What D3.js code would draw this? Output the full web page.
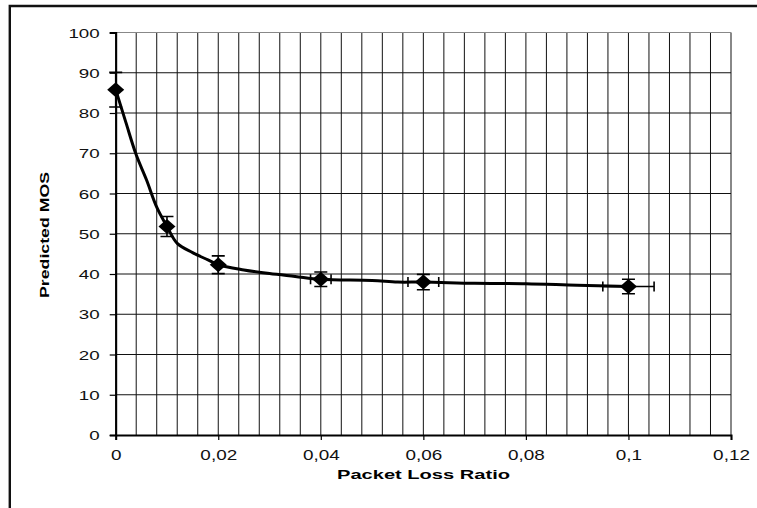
<!DOCTYPE html>
<html>
<head>
<meta charset="utf-8">
<script src="https://cdn.jsdelivr.net/npm/d3@7"></script>
<style>
  body { margin: 0; background: #fff; }
  svg { display: block; font-family: "Liberation Sans", Arial, sans-serif; }
</style>
</head>
<body>
<div id="chart"></div>
<script>
// Measured points (markers with error bars)
const lossRatio = [0, 0.01, 0.02, 0.04, 0.06, 0.1];
const predictedMos = [85.8, 51.8, 42.3, 38.7, 38.0, 36.9];
const mosError = [4.3, 2.5, 2.2, 1.8, 1.9, 1.8];
const lossError = [0, 0, 0, 0.002, 0.003, 0.005];

// Smoothed trend line
const curveLoss = [0, 0.002, 0.004, 0.006, 0.008, 0.01, 0.012, 0.015, 0.018, 0.02,
  0.025, 0.03, 0.035, 0.04, 0.05, 0.055, 0.06, 0.07, 0.08, 0.09, 0.1];
const curveMos = [85.8, 77.6, 69.6, 63.4, 56.6, 51.8, 47.6, 45.3, 43.5, 42.3,
  41.0, 40.1, 39.4, 38.7, 38.4, 38.0, 38.0, 37.7, 37.6, 37.2, 36.9];

const xTicks = [0, 0.02, 0.04, 0.06, 0.08, 0.1, 0.12];
const xTickLabels = ['0', '0,02', '0,04', '0,06', '0,08', '0,1', '0,12'];
const yTicks = [0, 10, 20, 30, 40, 50, 60, 70, 80, 90, 100];
const xGrid = d3.range(0, 0.1201, 0.004);

const width = 757;
const height = 508;

const svg = d3.select('#chart').append('svg').attr('width', width).attr('height', height);

// outer frame (only top and left edges show)
svg.append('path')
  .attr('d', 'M 9.8 508 L 9.8 6 L 757 6')
  .attr('fill', 'none')
  .attr('stroke', '#111')
  .attr('stroke-width', 2.4);

const x = d3.scaleLinear().domain([0, 0.12]).range([115.7, 731]);
const y = d3.scaleLinear().domain([0, 100]).range([435, 32.5]);

// grid
const grid = svg.append('g').attr('class', 'grid');
grid.selectAll('.vline')
  .data(xGrid)
  .enter()
  .append('line')
  .attr('class', 'vline')
  .attr('x1', (d) => x(d))
  .attr('x2', (d) => x(d))
  .attr('y1', y(100))
  .attr('y2', y(0))
  .attr('stroke', (d, i) => (i === xGrid.length - 1 ? '#888' : '#111'))
  .attr('stroke-width', (d, i) => (i === xGrid.length - 1 ? 2 : 1));

grid.selectAll('.hline')
  .data(yTicks.slice(1))
  .enter()
  .append('line')
  .attr('class', 'hline')
  .attr('x1', x(0))
  .attr('x2', x(0.12))
  .attr('y1', (d) => y(d))
  .attr('y2', (d) => y(d))
  .attr('stroke', (d) => (d === 100 ? '#888' : '#111'))
  .attr('stroke-width', 1);

// axes
const xAxis = svg.append('g')
  .attr('transform', `translate(0, ${y(0)})`)
  .call(d3.axisBottom(x).tickValues(xTicks).tickSize(5).tickFormat((d, i) => xTickLabels[i]));

const yAxis = svg.append('g')
  .attr('transform', `translate(${x(0)}, 0)`)
  .call(d3.axisLeft(y).tickValues(yTicks).tickSize(6));

xAxis.select('.domain').attr('stroke', '#000').attr('stroke-width', 2);
yAxis.select('.domain').attr('stroke', '#000').attr('stroke-width', 2);
xAxis.selectAll('.tick line').attr('stroke', '#000').attr('stroke-width', 1.2);
yAxis.selectAll('.tick line').attr('stroke', '#000').attr('stroke-width', 1.2);

// labels in the source are stretched sideways, so scale them
xAxis.selectAll('.tick text')
  .attr('y', 0)
  .attr('dy', 0)
  .attr('font-size', 14)
  .attr('fill', '#111')
  .attr('font-family', '"Liberation Sans", Arial, sans-serif')
  .attr('transform', 'translate(0, 25) scale(1.35, 1)');

yAxis.selectAll('.tick text')
  .attr('x', 0)
  .attr('dy', '0.36em')
  .attr('font-size', 12.5)
  .attr('fill', '#111')
  .attr('font-family', '"Liberation Sans", Arial, sans-serif')
  .attr('transform', 'translate(-16, 0) scale(1.5, 1)');

// axis titles
svg.append('text')
  .attr('x', 337)
  .attr('y', 479)
  .attr('font-size', 13)
  .attr('font-weight', 'bold')
  .attr('textLength', 173)
  .attr('lengthAdjust', 'spacingAndGlyphs')
  .text('Packet Loss Ratio');

svg.append('text')
  .attr('transform', 'translate(49, 298) rotate(-90)')
  .attr('x', 0)
  .attr('y', 0)
  .attr('font-size', 13)
  .attr('font-weight', 'bold')
  .attr('textLength', 126)
  .attr('lengthAdjust', 'spacingAndGlyphs')
  .text('Predicted MOS');

// trend line
const line = d3.line()
  .x((d) => x(d[0]))
  .y((d) => y(d[1]))
  .curve(d3.curveCatmullRom.alpha(0.5));

svg.append('path')
  .datum(d3.zip(curveLoss, curveMos))
  .attr('d', line)
  .attr('fill', 'none')
  .attr('stroke', '#000')
  .attr('stroke-width', 3)
  .attr('stroke-linejoin', 'round');

// error bars
const points = lossRatio.map((d, i) => ({
  loss: d,
  mos: predictedMos[i],
  mosErr: mosError[i],
  lossErr: lossError[i],
}));

const errG = svg.append('g').attr('stroke', '#000').attr('stroke-width', 1.6).attr('fill', 'none');
points.forEach((p) => {
  const cx = x(p.loss);
  const cy = y(p.mos);
  const top = y(p.mos + p.mosErr);
  const bot = y(p.mos - p.mosErr);
  errG.append('path').attr('d', `M ${cx} ${top} L ${cx} ${bot} M ${cx - 6.5} ${top} L ${cx + 6.5} ${top} M ${cx - 6.5} ${bot} L ${cx + 6.5} ${bot}`);
  if (p.lossErr > 0) {
    const l = x(p.loss - p.lossErr);
    const r = x(p.loss + p.lossErr);
    errG.append('path').attr('d', `M ${l} ${cy} L ${r} ${cy} M ${l} ${cy - 5} L ${l} ${cy + 5} M ${r} ${cy - 5} L ${r} ${cy + 5}`);
  }
});

// diamond markers
svg.append('g')
  .selectAll('path')
  .data(points)
  .enter()
  .append('path')
  .attr('d', (d) => {
    const cx = x(d.loss);
    const cy = y(d.mos);
    return `M ${cx - 8.5} ${cy} L ${cx} ${cy - 7.5} L ${cx + 8.5} ${cy} L ${cx} ${cy + 7.5} Z`;
  })
  .attr('fill', '#000');
</script>
</body>
</html>
